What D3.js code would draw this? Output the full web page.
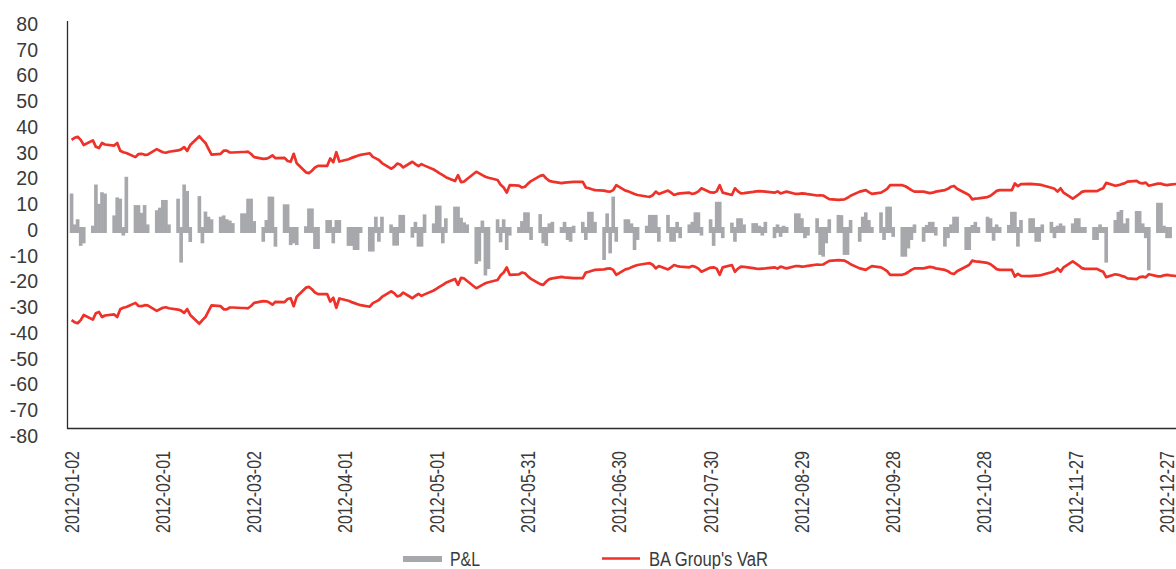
<!DOCTYPE html>
<html>
<head>
<meta charset="utf-8">
<script src="https://cdn.jsdelivr.net/npm/d3@7"></script>
<style>
  body { margin: 0; background: #fff; }
  svg { display: block; }
</style>
</head>
<body>
<script>
// P&L vs BA Group's VaR, 2012 (business days)
var tickLabels = ["2012-01-02", "2012-02-01", "2012-03-02", "2012-04-01", "2012-05-01",
  "2012-05-31", "2012-06-30", "2012-07-30", "2012-08-29", "2012-09-28",
  "2012-10-28", "2012-11-27", "2012-12-27"];
var yTicks = [-80, -70, -60, -50, -40, -30, -20, -10, 0, 10, 20, 30, 40, 50, 60, 70, 80];

// daily P&L, one value per weekday (Mon..Fri each row)
var pnl = [
  13, 1, 3, -5, -4,
  0.5, 16.5, 9, 13.5, 13,
  4.5, 11.5, 11, -1, 19.5,
  8.5, 8.5, 5.5, 8.5, 1,
  6.5, 7.5, 10.5, 10.5, 1,
  11, -11.5, 16.5, 14, -3.5,
  12, -4, 6, 4, 3,
  4, 4.5, 3, 2.5, 1.5,
  5.3, 5.3, 11, 11, 2.3,
  -3.4, 2.7, 11.8, 11.8, -5.3,
  8.8, 8.8, -4.7, -4, -4.7,
  0.3, 7.2, 7.2, -6.2, -6.2,
  2.7, 2.7, -4, 2.7, 2.7,
  -5, -5, -6.6, -6.6, 0,
  -7.2, -7.2, 4, -3.4, 4,
  1, -4.9, -4.9, 4.7, 4.7,
  -1.8, 2, -5.3, -5.3, 4.9,
  1.4, 8.3, 8.3, -4, 3.4,
  7.9, 7.9, 3.6, 1.8, 1,
  -12, -11, 2.5, -16.5, -14,
  3, -3.6, 3, -6.6, -1,
  0, 2.3, 5.7, 5.7, -2.7,
  5, -4, -5, 1.4, 2,
  0, 2, -2.7, -3.4, 0.5,
  2, -2.7, 5.9, 5.9, 2,
  -10.5, 5.3, -7.9, 11.8, -3.4,
  3, 3, 1.4, -6.6, -2.7,
  0.5, 4.7, 4.7, 4.7, -3.4,
  4.7, -3.4, -3.4, 2, -2,
  1, 2, 5.7, 5.7, -1,
  3, -5, 9.8, 9.8, -2,
  1.7, -3.4, 3.4, 3.4, 1,
  1.5, 1.5, 0.5, -1, 2,
  -2, 1, -1.5, 0.5, 0,
  5.3, 5.3, 3.4, -2, -1,
  3.4, -8.5, -9.2, -4, 3,
  4.7, 4.6, -8.5, -8.5, 2.7,
  -3.4, 4, 5.7, 2.7, 0,
  5.7, -2.7, 7.9, 7.9, -1.5,
  -9.2, -9.2, -6, -2.7, 1,
  -3.4, 0.8, 2, 2, -1,
  -5.3, -2, 1, 4, 4,
  -6.6, -6.6, 0.8, 2, 0,
  4, 3.4, -3, 1, 0,
  0.8, 5.9, 5.9, -5.3, 2.7,
  3.4, 3.4, -3.4, -3.4, 1,
  2, -2, 0.5, 1.4, 0.5,
  1.4, 3.4, 3.4, 0, 0,
  -2.7, -2.7, 1, 0, -11.5,
  2.7, 5.9, 6.6, 1.4, 3.4,
  6.2, 6.2, 1.4, -2, -14.5,
  9.4, 9.4, 0.5, -2, -2,
  -2.5
];

// VaR, drawn as +VaR and -VaR
var varValues = [
  35, 35.8, 36.2, 35, 33,
  34.8, 32.3, 31.8, 33.8, 33.2,
  32.8, 33.8, 30.8, 30.2, 29.9,
  28.3, 29.5, 29.6, 29.2, 29.3,
  31.4, 30.8, 30.2, 30, 30.4,
  30.9, 31.3, 32.2, 30.7, 33,
  36.4, 35, 33.8, 31.5, 29.3,
  29.6, 30.8, 30.8, 30.1, 30.1,
  30.3, 30.3, 30.4, 29.5, 28.3,
  27.6, 27.7, 28.2, 29, 27.9,
  28, 26.8, 26.5, 29.6, 25.9,
  22.4, 22.1, 23, 24.3, 24.9,
  24.9, 27.8, 26.3, 30.2, 26.6,
  27.5, 28, 28.4, 28.8, 29.2,
  29.8, 28.4, 27.8, 27.2, 26,
  23.8, 24.5, 25.8, 25.4, 24.3,
  26.5, 25.6, 24.8, 25.6, 25,
  23.5, 22.8, 22, 21.3, 20.5,
  19, 21.3, 18.6, 18.8, 19.8,
  22.6, 22, 21.3, 20.7, 20.3,
  19.4, 17.6, 16.5, 14.5, 17.4,
  17.2, 16.5, 16.8, 18, 19,
  21, 21.3, 20, 19.1, 18.8,
  18.2, 18.4, 18.5, 18.6, 18.7,
  18.7, 16.5, 16.2, 15.8, 15.5,
  15.3, 15, 14.9, 15.5, 17.4,
  15.3, 15, 14.5, 14, 13.6,
  13, 12.9, 13.5, 14.9, 14,
  15.3, 14.5, 13.6, 14, 14.2,
  14.5, 14, 14.3, 15, 16.2,
  14.6, 14.5, 15, 17.4, 14.5,
  13.6, 16.2, 15, 14.2, 14.3,
  14.8, 15, 15.1, 15, 14.9,
  14.5, 15, 14.2, 14.6, 14.9,
  14, 14, 14.2, 14.1, 13.9,
  13.4, 13.5, 13.4, 12.7, 12,
  11.7, 11.8, 11.9, 12.5, 13.3,
  14.9, 15.2, 15.5, 14.7, 14,
  14.5, 15.2, 16, 17.4, 17.4,
  17.4, 17, 16.3, 15.5, 14.9,
  14.9, 14.6, 14.3, 14.5, 14.9,
  15.5, 16, 16.8, 17.1, 16,
  14.2, 13.5, 11.9, 12.2, 12.3,
  12.8, 13.3, 14.2, 15.2, 15.5,
  15.5, 15.5, 18.1, 17, 17.8,
  17.9, 17.8, 17.7, 17.6, 17.4,
  16.4, 16, 14.9, 16.2, 14.5,
  12.2, 13, 13.8, 14.8, 15.1,
  15.1, 15.1, 15.7, 16.2, 18.3,
  17.2, 17.4, 17.8, 18.1, 18.8,
  19.1, 18.3, 18.1, 18.4, 17.2,
  18, 18, 17.6, 17.4, 17.6,
  18
];

var fmt = d3.timeFormat("%Y-%m-%d");
var allDays = d3.timeDay.range(new Date(2012, 0, 1), new Date(2013, 0, 1)).map(fmt);  // every calendar day
var bizDays = d3.timeDay.range(new Date(2012, 0, 2), new Date(2013, 0, 1))
  .filter(function (d) { return d.getDay() !== 0 && d.getDay() !== 6; })
  .map(fmt);  // weekdays only

var data = bizDays.map(function (d, i) {
  return { date: d, pnl: pnl[i], v: varValues[i] };
});

var width = 1176, height = 569;
var left = 67, axisTop = 21, axisBottom = 428.5;
var pad = 3;  // bars are drawn a little taller than their value, as in the source

var svg = d3.select("body").append("svg")
  .attr("width", width)
  .attr("height", height);

var x = d3.scaleBand()
  .domain(allDays)
  .range([left, left + 366 * 3.043])
  .padding(0);

var y = d3.scaleLinear()
  .domain([-80, 80])
  .range([436, 24]);

var labelFont = "'Liberation Sans', Arial, sans-serif";
var textColor = "#3a3a3a";

// bars
svg.append("g")
  .selectAll("rect")
  .data(data)
  .enter()
  .append("rect")
  .attr("x", function (d) { return x(d.date) - 0.3; })
  .attr("width", x.bandwidth() + 0.6)
  .attr("y", function (d) { return y(Math.max(d.pnl, 0)) - pad; })
  .attr("height", function (d) { return y(Math.min(d.pnl, 0)) - y(Math.max(d.pnl, 0)) + 2 * pad; })
  .attr("fill", "#a7a8ac");

// VaR lines
var cx = function (d) { return x(d.date) + x.bandwidth() / 2; };
var upper = d3.line().x(cx).y(function (d) { return y(d.v); });
var lower = d3.line().x(cx).y(function (d) { return y(-d.v); });

[upper, lower].forEach(function (gen) {
  svg.append("path")
    .datum(data)
    .attr("d", gen)
    .attr("fill", "none")
    .attr("stroke", "#ee3229")
    .attr("stroke-width", 2.7)
    .attr("stroke-linejoin", "round");
});

// axis frame
svg.append("line")
  .attr("x1", left + 0.5).attr("x2", left + 0.5)
  .attr("y1", axisTop).attr("y2", axisBottom)
  .attr("stroke", "#2b2b2b").attr("stroke-width", 1.3);
svg.append("line")
  .attr("x1", left).attr("x2", width)
  .attr("y1", axisBottom).attr("y2", axisBottom)
  .attr("stroke", "#2b2b2b").attr("stroke-width", 1.3);

// y axis labels (plain hyphen for negatives)
var gy = svg.append("g")
  .attr("transform", "translate(" + left + ",0)")
  .call(d3.axisLeft(y).tickValues(yTicks).tickSize(0).tickPadding(29)
    .tickFormat(function (d) { return String(d); }));
gy.select(".domain").remove();
gy.selectAll("text")
  .attr("fill", textColor)
  .style("font-family", labelFont)
  .style("font-size", "19.5px");

// x axis labels, rotated and condensed
var gx = svg.append("g")
  .attr("transform", "translate(0," + axisBottom + ")")
  .call(d3.axisBottom(x).tickValues(tickLabels).tickSize(0));
gx.select(".domain").remove();
gx.selectAll("text")
  .attr("transform", "rotate(-90)")
  .attr("x", -22.5)
  .attr("y", 0)
  .attr("dy", "0.36em")
  .attr("text-anchor", "end")
  .attr("textLength", 82)
  .attr("lengthAdjust", "spacingAndGlyphs")
  .attr("fill", textColor)
  .style("font-family", labelFont)
  .style("font-size", "19.5px");

// legend
var legend = svg.append("g");
legend.append("rect")
  .attr("x", 403).attr("y", 556)
  .attr("width", 39).attr("height", 6)
  .attr("fill", "#a7a8ac");
legend.append("text")
  .attr("x", 450).attr("y", 566)
  .attr("textLength", 30)
  .attr("lengthAdjust", "spacingAndGlyphs")
  .attr("fill", textColor)
  .style("font-family", labelFont)
  .style("font-size", "19.5px")
  .text("P&L");
legend.append("line")
  .attr("x1", 602).attr("x2", 640)
  .attr("y1", 558.5).attr("y2", 558.5)
  .attr("stroke", "#ee3229")
  .attr("stroke-width", 2.7);
legend.append("text")
  .attr("x", 649).attr("y", 566)
  .attr("textLength", 119)
  .attr("lengthAdjust", "spacingAndGlyphs")
  .attr("fill", textColor)
  .style("font-family", labelFont)
  .style("font-size", "19.5px")
  .text("BA Group's VaR");
</script>
</body>
</html>
